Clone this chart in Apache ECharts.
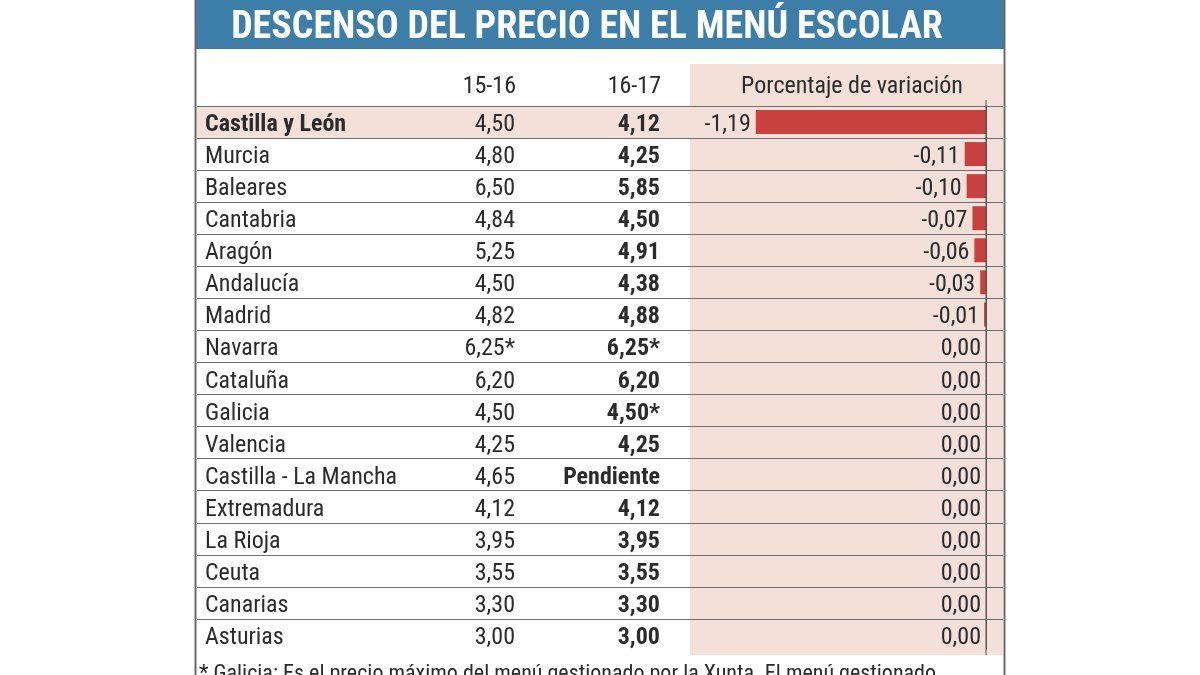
<!DOCTYPE html>
<html>
<head>
<meta charset="utf-8">
<script src="https://cdn.jsdelivr.net/npm/echarts@6/dist/echarts.min.js"></script>
<style>
html,body{margin:0;padding:0;background:#fff;}
#main{width:1200px;height:675px;}
</style>
</head>
<body>
<div id="main"></div>
<script>
// ---- data ----
var title = 'DESCENSO DEL PRECIO EN EL MENÚ ESCOLAR';
var headers = ['15-16', '16-17', 'Porcentaje de variación'];
var regions = ['Castilla y León','Murcia','Baleares','Cantabria','Aragón','Andalucía','Madrid','Navarra','Cataluña','Galicia','Valencia','Castilla - La Mancha','Extremadura','La Rioja','Ceuta','Canarias','Asturias'];
var price1516 = ['4,50','4,80','6,50','4,84','5,25','4,50','4,82','6,25*','6,20','4,50','4,25','4,65','4,12','3,95','3,55','3,30','3,00'];
var price1617 = ['4,12','4,25','5,85','4,50','4,91','4,38','4,88','6,25*','6,20','4,50*','4,25','Pendiente','4,12','3,95','3,55','3,30','3,00'];
var variation = [-1.19,-0.11,-0.10,-0.07,-0.06,-0.03,-0.01,0,0,0,0,0,0,0,0,0,0];
var footnote = '* Galicia: Es el precio máximo del menú gestionado por la Xunta. El menú gestionado';

// ---- style ----
var FONT = "'Liberation Sans Narrow', 'Roboto Condensed', 'DejaVu Sans Condensed', sans-serif";
var TXT = '#2b2b2b';
var PINK = '#f3e0d9';
var BLUE = '#3c7ea7';
var RED = '#c8413e';

var chart = echarts.init(document.getElementById('main'));

function fmt(v) { return v.toFixed(2).replace('.', ','); }

var option = {
  backgroundColor: '#ffffff',
  animation: false,
  textStyle: { fontFamily: FONT },
  graphic: [
    { type: 'rect', z: -10, shape: { x: 690, y: 64, width: 313, height: 591 }, style: { fill: PINK } },
    { type: 'rect', z: -10, shape: { x: 196, y: 106, width: 494, height: 33 }, style: { fill: PINK } },
    // cover the last boundary line under the final row (no separator there)
    { type: 'rect', z: 4, shape: { x: 196, y: 649.5, width: 494, height: 4 }, style: { fill: '#ffffff' } },
    { type: 'rect', z: 4, shape: { x: 690, y: 649.5, width: 313, height: 4 }, style: { fill: PINK } },
    { type: 'line', z: 5, shape: { x1: 986, y1: 100, x2: 986, y2: 655 }, style: { stroke: '#555', lineWidth: 1 } },
    { type: 'rect', z: 1, shape: { x: 195, y: 0, width: 810, height: 49 }, style: { fill: BLUE } },
    { type: 'text', z: 2, x: 587, y: 28, style: { text: title, fill: '#ffffff', font: 'bold 38px ' + FONT, textAlign: 'center', textVerticalAlign: 'middle' } },
    { type: 'line', z: 6, shape: { x1: 195.5, y1: 0, x2: 195.5, y2: 675 }, style: { stroke: '#6a6a6a', lineWidth: 2 } },
    { type: 'line', z: 6, shape: { x1: 1004.5, y1: 0, x2: 1004.5, y2: 675 }, style: { stroke: '#6a6a6a', lineWidth: 2 } },
    { type: 'text', z: 2, x: 516, y: 87, style: { text: headers[0], fill: TXT, font: '24px ' + FONT, textAlign: 'right', textVerticalAlign: 'middle' } },
    { type: 'text', z: 2, x: 661, y: 87, style: { text: headers[1], fill: TXT, font: '24px ' + FONT, textAlign: 'right', textVerticalAlign: 'middle' } },
    { type: 'text', z: 2, x: 852, y: 87, style: { text: headers[2], fill: TXT, font: '24px ' + FONT, textAlign: 'center', textVerticalAlign: 'middle' } },
    { type: 'text', z: 2, x: 199, y: 663, style: { text: footnote, fill: TXT, font: '22px ' + FONT, textAlign: 'left', textVerticalAlign: 'top' } }
  ],
  grid: [
    { left: 197, right: 197, top: 106, height: 545 },
    { left: 690, right: 214, top: 106, height: 545 }
  ],
  xAxis: [
    { gridIndex: 0, type: 'value', min: 0, max: 1, show: false },
    { gridIndex: 1, type: 'value', min: -1.53, max: 0, show: false }
  ],
  yAxis: [
    {
      gridIndex: 0, type: 'category', inverse: true, data: regions,
      axisLine: { show: false }, axisTick: { show: false },
      splitLine: { show: true, lineStyle: { color: '#6e6e6e', width: 1 } },
      axisLabel: {
        inside: true, margin: 8, interval: 0, padding: [6, 0, 0, 0],
        formatter: function (value, idx) {
          var nk = idx === 0 ? 'nb' : 'n';
          return '{' + nk + '|' + value + '}{a|' + price1516[idx] + '}{b|' + price1617[idx] + '}';
        },
        rich: {
          n: { width: 240, align: 'left', fontSize: 24, color: TXT, fontFamily: FONT },
          nb: { width: 240, align: 'left', fontSize: 24, fontWeight: 'bold', color: TXT, fontFamily: FONT },
          a: { width: 70, align: 'right', fontSize: 24, color: TXT, fontFamily: FONT },
          b: { width: 145, align: 'right', fontSize: 24, fontWeight: 'bold', color: TXT, fontFamily: FONT }
        }
      }
    },
    {
      gridIndex: 1, type: 'category', inverse: true, data: regions, position: 'right',
      axisLine: { show: true, lineStyle: { color: '#555', width: 1 } },
      axisTick: { show: false }, axisLabel: { show: false }, splitLine: { show: false }
    }
  ],
  series: [
    {
      type: 'bar', xAxisIndex: 1, yAxisIndex: 1, data: variation, barWidth: 24,
      itemStyle: { color: RED },
      label: {
        show: true, position: 'left', distance: 5, offset: [0, 3],
        formatter: function (p) { return fmt(p.value); },
        fontSize: 24, color: TXT, fontFamily: FONT
      }
    }
  ]
};
chart.setOption(option);
</script>
</body>
</html>
